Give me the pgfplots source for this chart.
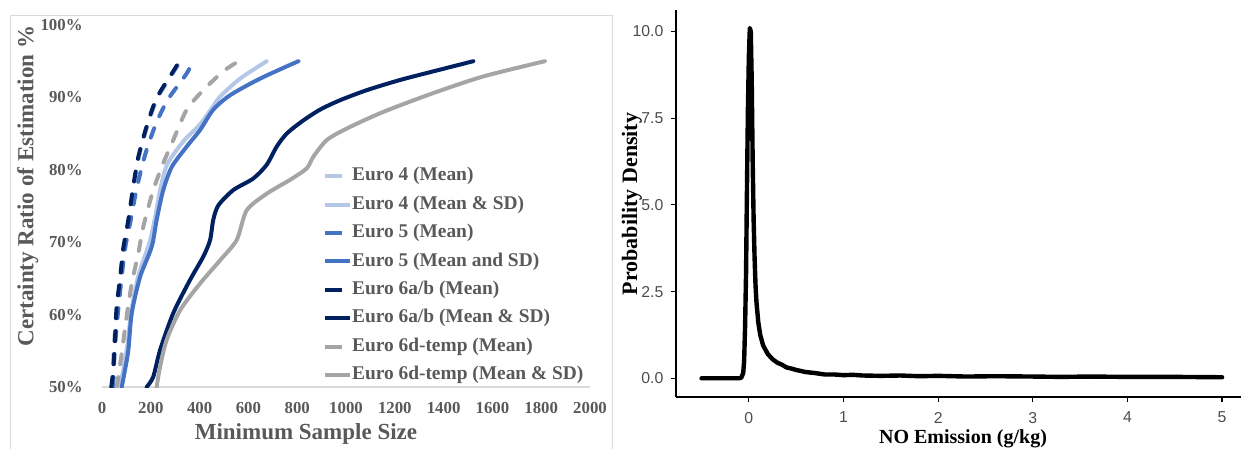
\documentclass[border=0pt]{standalone}
\usepackage{fontspec}
\setmainfont{Liberation Serif}
\setsansfont{Liberation Sans}
\usepackage{pgfplots}
\pgfplotsset{compat=1.18}
\definecolor{eurofour}{HTML}{B4C7E7}
\definecolor{eurofive}{HTML}{4472C4}
\definecolor{eurosix}{HTML}{002060}
\definecolor{eurosixd}{HTML}{A5A5A5}
\definecolor{txtgray}{HTML}{595959}
\definecolor{framegray}{HTML}{D9D9D9}
\definecolor{ticktxt}{HTML}{4D4D4D}

\pgfplotsset{
  meanline/.style={dash pattern=on 5pt off 6.5pt, line cap=round,
    legend image code/.code={\path[draw=none] (0pt,0pt) -- (12.5pt,0pt);
      \draw[##1,solid,line cap=butt] (0pt,0pt) -- (8.5pt,0pt);}},
  sdline/.style={line cap=round,
    legend image code/.code={\draw[##1,solid,line cap=butt] (0pt,0pt) -- (12.5pt,0pt);}},
}

\begin{document}
\begin{tikzpicture}
\useasboundingbox (0pt,0pt) rectangle (620.5pt,-224.5pt);
\draw[framegray, line width=0.5pt] (5.25pt,-240pt) -- (5.25pt,-7.75pt) -- (306.25pt,-7.75pt) -- (306.25pt,-240pt);

% left panel: minimum sample size
\begin{axis}[
  at={(51pt,-193.5pt)}, anchor=south west,
  scale only axis, width=244pt, height=181pt,
  xmin=0, xmax=2000, ymin=50, ymax=100,
  axis x line*=bottom, axis y line*=left,
  y axis line style={draw=none},
  x axis line style={framegray, line width=0.7pt, -},
  tick style={draw=none},
  xtick={0,200,...,2000}, ytick={50,60,...,100},
  yticklabel={\pgfmathprintnumber{\tick}\%},
  /pgf/number format/1000 sep={},
  /pgf/number format/assume math mode=true,
  tick label style={font=\fontsize{8.4}{10}\selectfont\bfseries, text=txtgray, inner sep=0pt},
  yticklabel style={anchor=east, xshift=-9.5pt},
  xticklabel style={anchor=north, yshift=-7.5pt},
  xlabel={Minimum Sample Size},
  xlabel style={at={(axis description cs:0.418,-0.146)}, anchor=base,
    font=\fontsize{11.5}{13}\selectfont\bfseries, text=txtgray},
  ylabel={Certainty Ratio of Estimation \%},
  ylabel style={at={(axis description cs:-0.152,0.555)}, anchor=center,
    font=\fontsize{11.5}{13}\selectfont\bfseries, text=txtgray},
  legend style={at={(0.453,0.608)}, anchor=north west, draw=none, fill=none,
    inner sep=0pt, outer sep=0pt, row sep=5pt,
    font=\fontsize{9.7}{11}\selectfont\bfseries, text=txtgray,
    nodes={inner sep=0pt, text height=7pt, text depth=2.2pt},
    /tikz/every even column/.append style={column sep=1pt}},
  legend cell align=left,
  every axis plot/.append style={line width=2pt, smooth, tension=0.45, line join=round},
]
\addplot[eurofour, meanline] coordinates {
  (42,50) (50,56.5) (64,60.6) (78,65) (92,69.1) (112,73.1) (131,77.7) (152,81.8)
  (186,86) (228,89.9) (296,93.6) (322,95)};
\addplot[eurofour, sdline] coordinates {
  (75,50) (90,53) (105,56) (120,60.5) (150,65.5) (195,70) (218,73.5) (240,77.5)
  (268,80.8) (335,84) (400,86.2) (450,88.5) (484,90.1) (566,92.6) (675,95)};
\addplot[eurofive, meanline] coordinates {
  (46,50) (52,55) (66,60.5) (80,65) (95,69.2) (118,73.1) (142,77.4) (176,82)
  (217,86) (268,89.6) (347,93.3) (372,95)};
\addplot[eurofive, sdline] coordinates {
  (81,50) (95,52.5) (108,55.1) (122,60.2) (156,65.2) (204,69.4) (224,73.1) (251,77.2)
  (286,80.4) (347,83.2) (402,85.5) (456,88.3) (525,90.3) (648,92.6) (805,95)};
\addplot[eurosix, meanline] coordinates {
  (38,50) (46,52.3) (53,56.5) (60,61.1) (74,65) (87,69.1) (108,73.1) (128,77.7)
  (149,81.8) (183,86) (224,89.9) (292,93.6) (318,95)};
\addplot[eurosix, sdline] coordinates {
  (183,50) (210,51.4) (238,55.1) (292,60.2) (361,64.8) (415,68) (443,70.3) (456,73.1)
  (477,75.1) (538,77.2) (620,78.8) (675,80.7) (716,83.2) (757,85) (820,86.7) (893,88.3)
  (975,89.6) (1085,91) (1221,92.4) (1358,93.6) (1522,95)};
\addplot[eurosixd, meanline] coordinates {
  (60,50) (67,51.4) (81,54.7) (101,59.7) (122,64.3) (149,68.5) (169,72.1) (210,77.2)
  (251,80.9) (292,84.1) (347,88.3) (415,91) (497,93.6) (560,95)};
\addplot[eurosixd, sdline] coordinates {
  (224,50) (238,52.8) (265,56.5) (320,60.6) (402,64.3) (484,67.5) (552,70.3) (593,74.4)
  (675,76.7) (770,78.6) (839,80.2) (866,81.8) (921,84.1) (1003,85.7) (1153,88) (1358,90.6)
  (1563,92.9) (1815,95)};
\legend{Euro 4 (Mean), Euro 4 (Mean \& SD), Euro 5 (Mean), Euro 5 (Mean and SD),
  Euro 6a/b (Mean), Euro 6a/b (Mean \& SD), Euro 6d-temp (Mean), Euro 6d-temp (Mean \& SD)}
\end{axis}

% right panel: density of NO emission
\begin{axis}[
  at={(338pt,-198.5pt)}, anchor=south west,
  scale only axis, width=282.5pt, height=193.5pt,
  xmin=-0.77, xmax=5.2, ymin=-0.54, ymax=10.62,
  axis x line*=bottom, axis y line*=left,
  axis line style={black, line width=0.8pt, -},
  tick align=outside, major tick length=2.5pt,
  tick style={black, line width=0.6pt},
  xtick={0,1,2,3,4,5}, ytick={0,2.5,5,7.5,10},
  y tick label style={/pgf/number format/fixed, /pgf/number format/fixed zerofill,
    /pgf/number format/precision=1},
  /pgf/number format/assume math mode=true,
  tick label style={font=\sffamily\fontsize{7.9}{9}\selectfont, text=ticktxt, inner sep=0pt},
  yticklabel style={anchor=east, xshift=-3.6pt},
  xticklabel style={anchor=north, yshift=-4.8pt},
  xlabel={NO Emission (g/kg)},
  xlabel style={at={(axis description cs:0.508,-0.119)}, anchor=base,
    font=\fontsize{10}{12}\selectfont\bfseries},
  ylabel={Probability Density},
  ylabel style={at={(axis description cs:-0.078,0.499)}, anchor=center,
    font=\fontsize{11}{13}\selectfont\bfseries},
]
\addplot[black, line width=2.2pt, line join=round, line cap=round] coordinates {
  (-0.5,0) (-0.1,0) (-0.08,0.02) (-0.06,0.15) (-0.05,0.5) (-0.04,1.5) (-0.03,3.0)
  (-0.02,5.5) (-0.01,7.8) (0,9.3) (0.01,10.1) (0.02,10.0) (0.03,8.6) (0.04,6.3)
  (0.05,4.6) (0.06,3.5) (0.07,2.7) (0.08,2.2) (0.1,1.6) (0.12,1.25) (0.15,0.95)
  (0.2,0.7) (0.25,0.55) (0.3,0.45) (0.35,0.39) (0.4,0.31) (0.45,0.28) (0.5,0.24)
  (0.6,0.18) (0.7,0.15) (0.8,0.11) (0.9,0.11) (1.0,0.09) (1.1,0.1) (1.2,0.08)
  (1.4,0.07) (1.6,0.08) (1.8,0.06) (2.0,0.07) (2.3,0.05) (2.6,0.06) (3.0,0.05)
  (3.3,0.04) (3.6,0.05) (4.0,0.04) (4.5,0.04) (5.0,0.03)};
\end{axis}
\end{tikzpicture}
\end{document}
